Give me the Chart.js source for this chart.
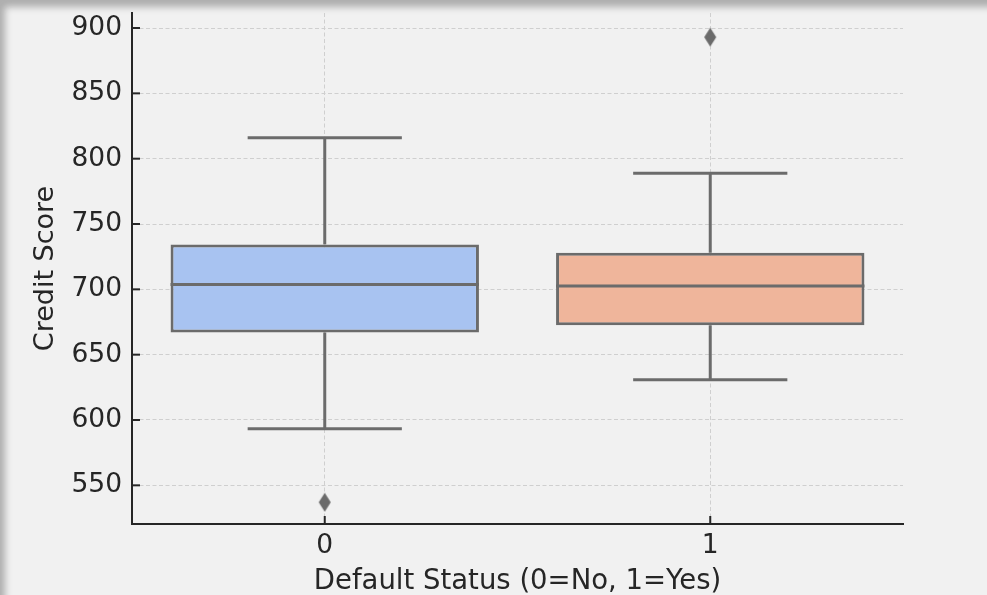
<!DOCTYPE html>
<html>
<head>
<meta charset="utf-8">
<script src="https://cdn.jsdelivr.net/npm/chart.js@4/dist/chart.umd.min.js"></script>
<style>
html,body{margin:0;padding:0;background:#f1f1f1;}
#wrap{position:relative;width:987px;height:595px;overflow:hidden;
  box-shadow:inset 8px 10px 7px -3px rgba(0,0,0,0.28);}
canvas{position:absolute;left:0;top:0;}
</style>
</head>
<body>
<div id="wrap"><canvas id="box" width="987" height="595"></canvas></div>
<script>
// box plot stats per group
const groups=["0","1"];
const q1=[667,672.5];
const median=[703.7,702.6];
const q3=[734.4,728];
const whiskLo=[593.3,630.8];
const whiskHi=[816.1,788.8];
const outliers=[537,893];
const boxColors=["#a8c3f1","#efb59b"];
const yTicks=[550,600,650,700,750,800,850,900];

const LINE="#6b6b6b",AXIS="#262626",FONT="DejaVu Sans";

// thin diamond marker like seaborn's 'd'
const dia=document.createElement("canvas");dia.width=14;dia.height=20;
{const c=dia.getContext("2d");c.fillStyle=LINE;c.beginPath();
 c.moveTo(7,0.5);c.lineTo(13,10);c.lineTo(7,19.5);c.lineTo(1,10);c.closePath();c.fill();}

const boxParts={id:"boxParts",
  afterDatasetsDraw(ch){
    const {ctx,scales:{x,y}}=ch;
    const catW=x.getPixelForValue(1)-x.getPixelForValue(0);
    ctx.save();ctx.strokeStyle=LINE;ctx.lineWidth=3;ctx.lineCap="butt";
    groups.forEach((g,i)=>{
      const cx=x.getPixelForValue(i),half=catW*0.4,cap=catW*0.2;
      const seg=(x1,y1,x2,y2)=>{ctx.beginPath();ctx.moveTo(x1,y1);ctx.lineTo(x2,y2);ctx.stroke();};
      seg(cx-half,y.getPixelForValue(median[i]),cx+half,y.getPixelForValue(median[i]));
      seg(cx,y.getPixelForValue(q3[i]),cx,y.getPixelForValue(whiskHi[i]));
      seg(cx,y.getPixelForValue(q1[i]),cx,y.getPixelForValue(whiskLo[i]));
      seg(cx-cap,y.getPixelForValue(whiskHi[i]),cx+cap,y.getPixelForValue(whiskHi[i]));
      seg(cx-cap,y.getPixelForValue(whiskLo[i]),cx+cap,y.getPixelForValue(whiskLo[i]));
    });
    // inward tick marks
    ctx.strokeStyle=AXIS;ctx.lineWidth=2;
    const a=ch.chartArea;
    y.ticks.forEach(t=>{const py=y.getPixelForValue(t.value);
      ctx.beginPath();ctx.moveTo(a.left,py);ctx.lineTo(a.left+8,py);ctx.stroke();});
    groups.forEach((g,i)=>{const px=x.getPixelForValue(i);
      ctx.beginPath();ctx.moveTo(px,a.bottom);ctx.lineTo(px,a.bottom-8);ctx.stroke();});
    ctx.restore();
  }};

new Chart(document.getElementById("box"),{
  type:"bar",
  data:{labels:groups,datasets:[
    {type:"line",data:outliers,showLine:false,pointStyle:dia,pointRadius:7,order:0},
    {data:groups.map((g,i)=>[q1[i],q3[i]]),backgroundColor:boxColors,borderColor:LINE,
     borderWidth:3,borderSkipped:false,categoryPercentage:0.8,barPercentage:1,order:1}
  ]},
  options:{responsive:false,animation:false,
    layout:{padding:{left:0,top:13,right:84,bottom:0}},
    plugins:{legend:{display:false},tooltip:{enabled:false}},
    scales:{
      x:{grid:{offset:false,color:"#cfcfcf",lineWidth:1,drawTicks:false},
         border:{color:AXIS,width:2,dash:[4,2.5]},
         ticks:{color:AXIS,padding:6,font:{family:FONT,size:26.5}},
         title:{display:true,text:"Default Status (0=No, 1=Yes)",color:AXIS,
                font:{family:FONT,size:27.5},padding:{bottom:-3}},
         afterFit(s){s.height=71;s.paddingLeft=0;s.paddingRight=0;}},
      y:{min:520.4,max:911.5,
         afterBuildTicks(s){s.ticks=yTicks.map(v=>({value:v}));},
         grid:{color:"#cfcfcf",lineWidth:1,drawTicks:false},
         border:{color:AXIS,width:2,dash:[4,2.5]},
         ticks:{color:AXIS,padding:10,font:{family:FONT,size:26.5}},
         title:{display:true,text:"Credit Score",color:AXIS,
                font:{family:FONT,size:27},padding:{top:30}},
         afterFit(s){s.width=132;s.paddingTop=0;s.paddingBottom=0;}}
    }},
  plugins:[boxParts]
});
</script>
</body>
</html>
